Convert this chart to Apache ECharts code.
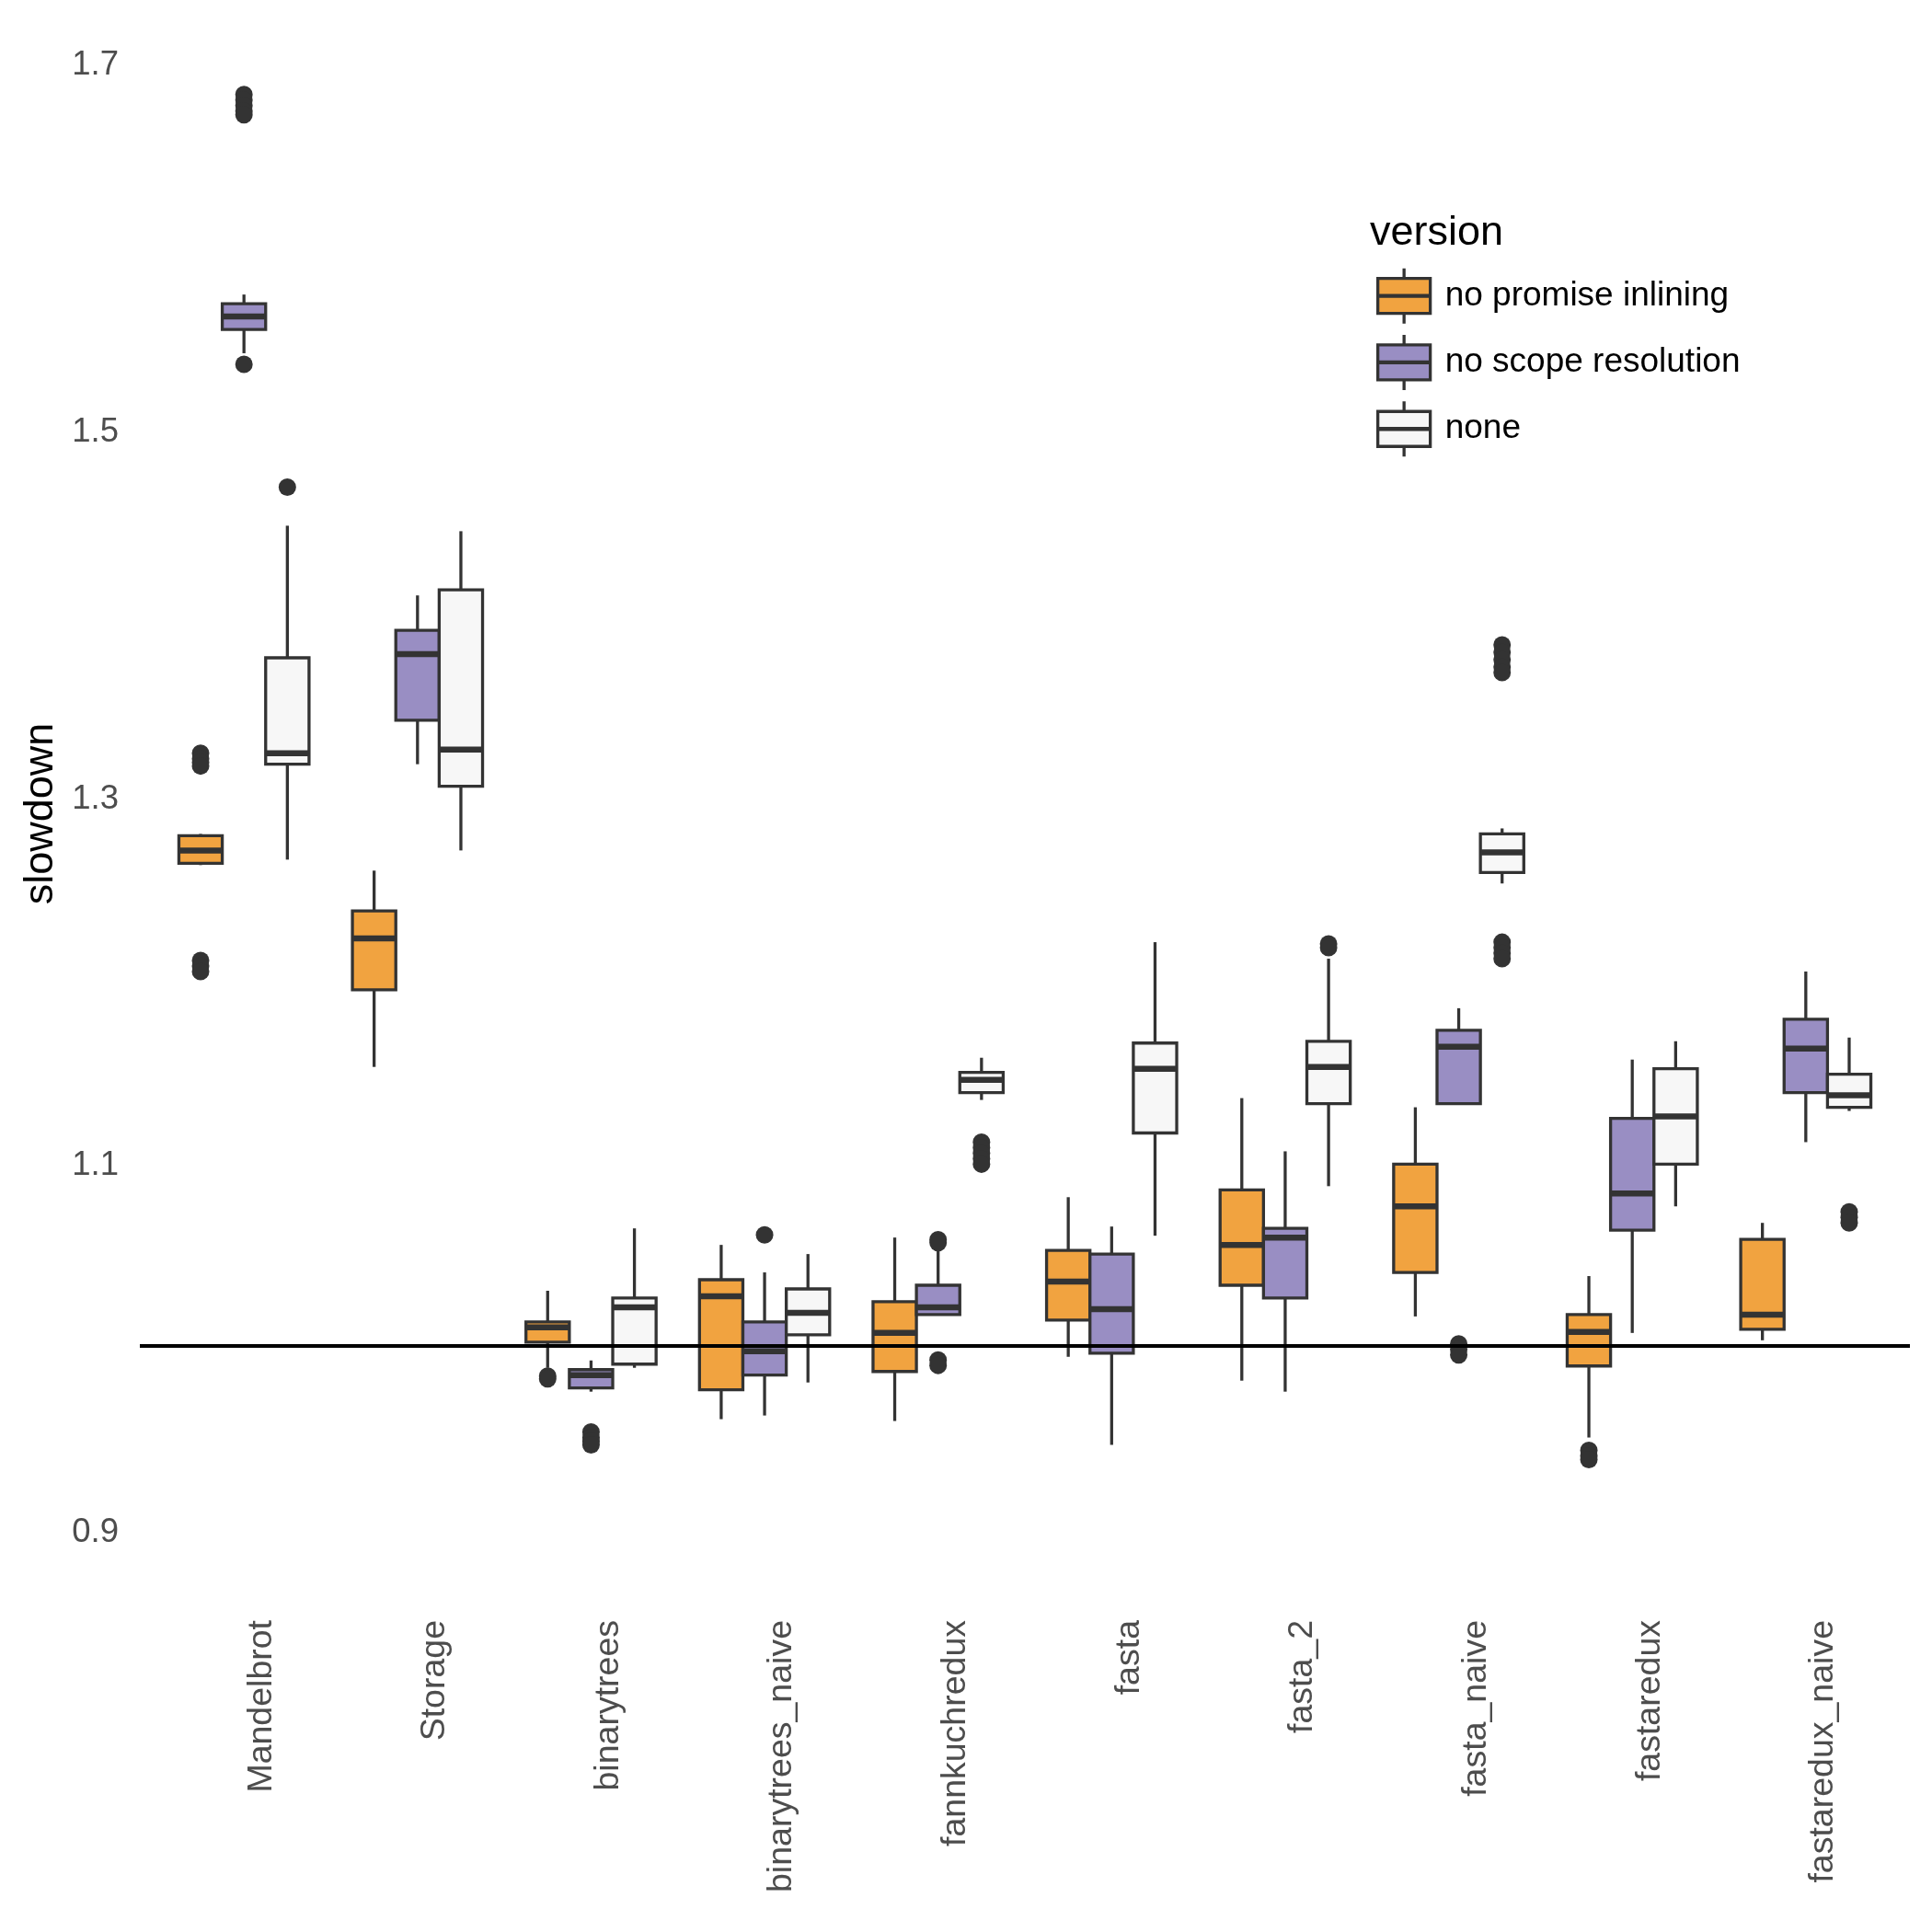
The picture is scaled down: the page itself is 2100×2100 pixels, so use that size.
<!DOCTYPE html>
<html>
<head>
<meta charset="utf-8">
<title>slowdown by version</title>
<script src="https://cdn.jsdelivr.net/npm/echarts@6.0.0/dist/echarts.min.js"></script>
<style>
  html, body { margin: 0; padding: 0; background: #fff; }
  #chart { width: 2100px; height: 2100px; }
</style>
</head>
<body>
<div id="chart"></div>
<script>
var categories = ['Mandelbrot', 'Storage', 'binarytrees', 'binarytrees_naive', 'fannkuchredux',
  'fasta', 'fasta_2', 'fasta_naive', 'fastaredux', 'fastaredux_naive'];
var versions = ['no promise inlining', 'no scope resolution', 'none'];
var yTicks = [0.9, 1.1, 1.3, 1.5, 1.7];

// [lower whisker, q1, median, q3, upper whisker], one row per benchmark
var promiseStats = [
  [1.262, 1.263, 1.270, 1.278, 1.279],
  [1.152, 1.194, 1.222, 1.237, 1.259],
  [0.988, 1.002, 1.010, 1.013, 1.030],
  [0.960, 0.976, 1.027, 1.036, 1.055],
  [0.959, 0.986, 1.007, 1.024, 1.059],
  [0.994, 1.014, 1.035, 1.052, 1.081],
  [0.981, 1.033, 1.055, 1.085, 1.135],
  [1.016, 1.040, 1.076, 1.099, 1.130],
  [0.950, 0.989, 1.0075, 1.017, 1.038],
  [1.003, 1.009, 1.017, 1.058, 1.067]
];
var scopeStats = [
  [1.541, 1.554, 1.561, 1.568, 1.573],
  [1.317, 1.341, 1.377, 1.390, 1.409],
  [0.975, 0.977, 0.984, 0.987, 0.992],
  [0.962, 0.984, 0.997, 1.013, 1.040],
  [1.017, 1.017, 1.021, 1.033, 1.053],
  [0.946, 0.996, 1.020, 1.050, 1.065],
  [0.975, 1.026, 1.059, 1.064, 1.106],
  [1.132, 1.132, 1.163, 1.172, 1.184],
  [1.007, 1.063, 1.083, 1.124, 1.156],
  [1.111, 1.138, 1.162, 1.178, 1.204]
];
var noneStats = [
  [1.265, 1.317, 1.323, 1.375, 1.447],
  [1.270, 1.305, 1.325, 1.412, 1.444],
  [0.988, 0.990, 1.021, 1.026, 1.064],
  [0.980, 1.006, 1.018, 1.031, 1.050],
  [1.134, 1.138, 1.145, 1.149, 1.157],
  [1.060, 1.116, 1.151, 1.165, 1.220],
  [1.087, 1.132, 1.152, 1.166, 1.211],
  [1.252, 1.258, 1.269, 1.279, 1.282],
  [1.076, 1.099, 1.125, 1.151, 1.166],
  [1.128, 1.130, 1.1365, 1.148, 1.168]
];

// outlying runs: [benchmark, slowdown]
var promiseOutliers = [
  ['Mandelbrot', 1.323], ['Mandelbrot', 1.320], ['Mandelbrot', 1.318], ['Mandelbrot', 1.316],
  ['Mandelbrot', 1.210], ['Mandelbrot', 1.207], ['Mandelbrot', 1.204],
  ['binarytrees', 0.9835], ['binarytrees', 0.982],
  ['fastaredux', 0.943], ['fastaredux', 0.940], ['fastaredux', 0.938]
];
var scopeOutliers = [
  ['Mandelbrot', 1.682], ['Mandelbrot', 1.679], ['Mandelbrot', 1.676], ['Mandelbrot', 1.673],
  ['Mandelbrot', 1.671], ['Mandelbrot', 1.535],
  ['binarytrees', 0.953], ['binarytrees', 0.950], ['binarytrees', 0.948], ['binarytrees', 0.946],
  ['binarytrees_naive', 1.0605],
  ['fannkuchredux', 1.0578], ['fannkuchredux', 1.0562], ['fannkuchredux', 0.9923], ['fannkuchredux', 0.9893],
  ['fasta_naive', 1.001], ['fasta_naive', 0.998], ['fasta_naive', 0.995]
];
var noneOutliers = [
  ['Mandelbrot', 1.468],
  ['fannkuchredux', 1.111], ['fannkuchredux', 1.108], ['fannkuchredux', 1.105],
  ['fannkuchredux', 1.102], ['fannkuchredux', 1.099],
  ['fasta_2', 1.219], ['fasta_2', 1.217],
  ['fasta_naive', 1.382], ['fasta_naive', 1.378], ['fasta_naive', 1.374], ['fasta_naive', 1.370],
  ['fasta_naive', 1.367], ['fasta_naive', 1.220], ['fasta_naive', 1.217], ['fasta_naive', 1.214],
  ['fasta_naive', 1.211],
  ['fastaredux_naive', 1.073], ['fastaredux_naive', 1.070], ['fastaredux_naive', 1.067]
];

var allStats = [promiseStats, scopeStats, noneStats];
var allOutliers = [promiseOutliers, scopeOutliers, noneOutliers];
var fills = ['#F1A340', '#998EC3', '#F7F7F7'];
var edge = '#333333';
var dodge = [-0.25, 0, 0.25];
var half = 0.125;
var font = 'Liberation Sans';

function boxData(stats) {
  return stats.map(function (s, i) { return [i + 1].concat(s); });
}

function outlierData(list, k) {
  return list.map(function (o) {
    return [categories.indexOf(o[0]) + 1 + dodge[k], o[1]];
  });
}

function makeRender(k) {
  return function (params, api) {
    var x = api.value(0) + dodge[k];
    var lo = api.value(1), q1 = api.value(2), md = api.value(3), q3 = api.value(4), hi = api.value(5);
    var tl = api.coord([x - half, q3]);
    var br = api.coord([x + half, q1]);
    var top = api.coord([x, hi]);
    var c3 = api.coord([x, q3]);
    var c1 = api.coord([x, q1]);
    var bot = api.coord([x, lo]);
    var ml = api.coord([x - half, md]);
    var mr = api.coord([x + half, md]);
    var lineStyle = { stroke: edge, lineWidth: 3.3 };
    return {
      type: 'group',
      children: [
        { type: 'line', shape: { x1: top[0], y1: top[1], x2: c3[0], y2: c3[1] }, style: lineStyle },
        { type: 'line', shape: { x1: c1[0], y1: c1[1], x2: bot[0], y2: bot[1] }, style: lineStyle },
        { type: 'rect', shape: { x: tl[0], y: tl[1], width: br[0] - tl[0], height: br[1] - tl[1] },
          style: { fill: fills[k], stroke: edge, lineWidth: 3.3 } },
        { type: 'line', shape: { x1: ml[0], y1: ml[1], x2: mr[0], y2: mr[1] },
          style: { stroke: edge, lineWidth: 6.5 } }
      ]
    };
  };
}

var legendIcon = 'path://M28.5,0L28.5,11M0,11L57,11L57,49L0,49ZM28.5,49L28.5,60M0,29.5L57,29.5L57,30.5L0,30.5Z';

var series = [];
versions.forEach(function (name, k) {
  series.push({
    name: name,
    type: 'custom',
    renderItem: makeRender(k),
    itemStyle: { color: fills[k] },
    encode: { x: 0, y: [1, 2, 3, 4, 5] },
    data: boxData(allStats[k]),
    z: 2
  });
});
versions.forEach(function (name, k) {
  series.push({
    name: 'outliers ' + name,
    type: 'scatter',
    symbol: 'circle',
    symbolSize: 19,
    itemStyle: { color: edge, opacity: 1 },
    data: outlierData(allOutliers[k], k),
    z: 3
  });
});
series[series.length - 1].markLine = {
  silent: true,
  symbol: 'none',
  label: { show: false },
  lineStyle: { color: '#000000', width: 3.8, type: 'solid' },
  data: [{ yAxis: 1 }],
  z: 4
};

var chart = echarts.init(document.getElementById('chart'), null, { renderer: 'canvas' });
chart.setOption({
  animation: false,
  backgroundColor: '#ffffff',
  title: {
    text: 'version',
    left: 1489,
    top: 231,
    padding: 0,
    textStyle: { fontFamily: font, fontSize: 45, fontWeight: 'normal', color: '#000000' }
  },
  legend: {
    orient: 'vertical',
    left: 1496,
    top: 290,
    padding: 0,
    itemWidth: 57,
    itemHeight: 60,
    itemGap: 9,
    data: versions.map(function (v) { return { name: v, icon: legendIcon }; }),
    itemStyle: { borderColor: edge, borderWidth: 3.3 },
    textStyle: { fontFamily: font, fontSize: 37, color: '#000000', padding: [0, 0, 0, 11] },
    selectedMode: false
  },
  grid: { left: 152, right: 24, top: 27, bottom: 358, containLabel: false },
  xAxis: {
    type: 'value',
    min: 0.4,
    max: 10.6,
    axisLine: { show: false },
    axisTick: { show: false },
    splitLine: { show: false },
    axisLabel: {
      customValues: categories.map(function (c, i) { return i + 1; }),
      // leading blank line nudges the rotated text off the tick, as in the original
      formatter: function (v) { return '\n' + (categories[Math.round(v) - 1] || ''); },
      rotate: 90,
      margin: 19,
      lineHeight: 38,
      fontFamily: font,
      fontSize: 37.5,
      color: '#4D4D4D'
    }
  },
  yAxis: {
    type: 'value',
    min: 0.86,
    max: 1.72,
    name: 'slowdown',
    nameLocation: 'middle',
    nameGap: 84,
    nameTextStyle: { fontFamily: font, fontSize: 45, color: '#000000' },
    axisLine: { show: false },
    axisTick: { show: false },
    splitLine: { show: false },
    axisLabel: {
      customValues: yTicks,
      formatter: function (v) { return '\n' + v.toFixed(1); },
      lineHeight: 8,
      margin: 23,
      fontFamily: font,
      fontSize: 36.5,
      color: '#4D4D4D'
    }
  },
  series: series
});
</script>
</body>
</html>
